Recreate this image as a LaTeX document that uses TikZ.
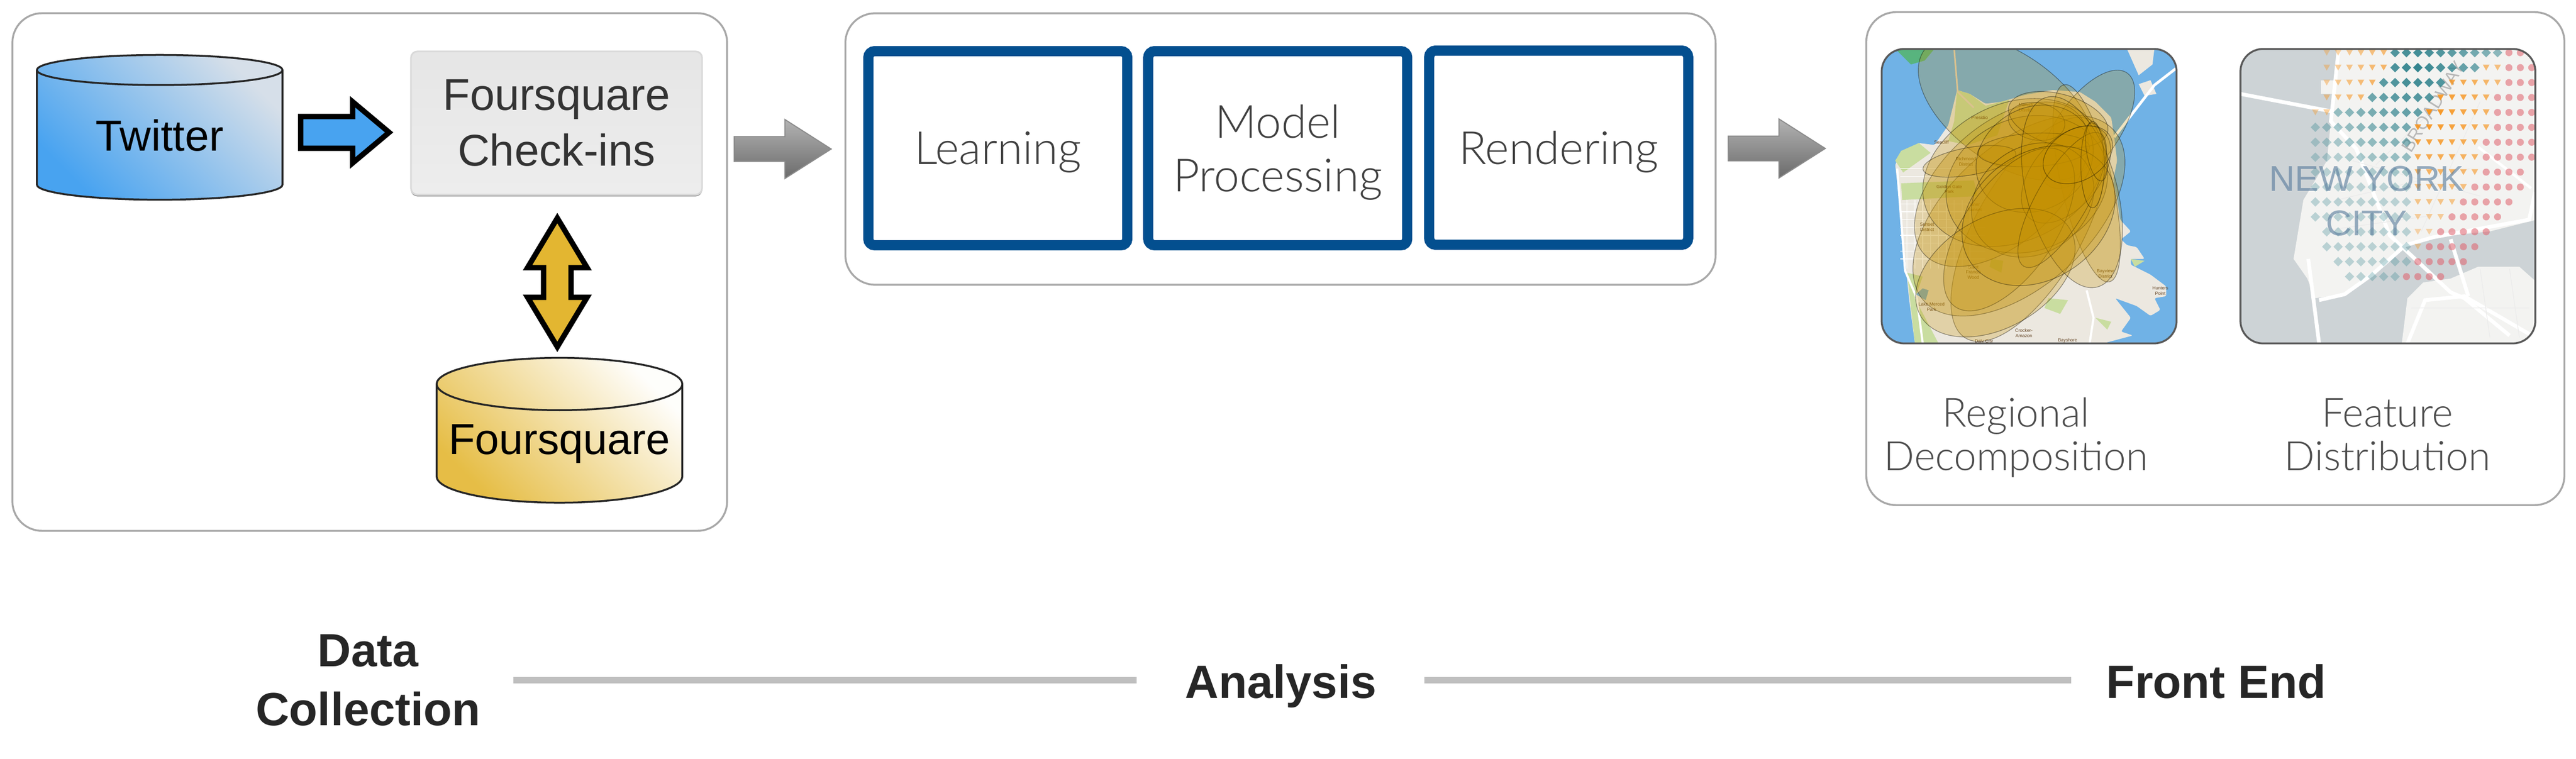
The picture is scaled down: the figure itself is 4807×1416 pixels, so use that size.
\documentclass[tikz,border=0pt]{standalone}
\usepackage{fontspec}
\setmainfont{Liberation Sans}
\newfontfamily\thinfont{Lato Light}
\usetikzlibrary{shapes.geometric}
\usetikzlibrary{shapes.arrows}
\usetikzlibrary{positioning}
\usetikzlibrary{shadows}
\definecolor{panelgray}{HTML}{A8A8A8}
\definecolor{stepblue}{HTML}{034F8F}
\definecolor{feedblue}{HTML}{48A3F0}
\definecolor{feedmid}{HTML}{B4CEE8}
\definecolor{feedpale}{HTML}{D6DFE9}
\definecolor{syncgold}{HTML}{E3B631}
\definecolor{sfwater}{HTML}{70B2E6}
\definecolor{sfland}{HTML}{ECE8E0}
\definecolor{sfgreen}{HTML}{C9DDA0}
\definecolor{sfblob}{HTML}{C49000}
\definecolor{nywater}{HTML}{CDD3D6}
\definecolor{nyland}{HTML}{F3F3F1}
\definecolor{nyname}{HTML}{54789A}
\definecolor{markteal}{HTML}{34858F}
\definecolor{markorange}{HTML}{F7941D}
\definecolor{markrose}{HTML}{E0606C}
\begin{document}
\begin{tikzpicture}[x=.01cm,y=-.01cm,
panel/.style={rectangle,draw=panelgray,line width=.035cm,rounded corners=.55cm,fill=white,outer sep=0pt},
stepbox/.style={rectangle,draw=stepblue,line width=.19cm,rounded corners=.12cm,fill=white,minimum width=4.83cm,minimum height=3.62cm,inner sep=0pt,outer sep=0pt,align=center,text=black!75,text depth=0pt,font=\thinfont\fontsize{24.3pt}{28.4pt}\selectfont},
store/.style={cylinder,shape border rotate=90,aspect=.236,draw=black!85,line width=.035cm,minimum width=4.58cm,minimum height=2.70cm,inner sep=0pt,outer sep=0pt,font=\fontsize{23pt}{28pt}\selectfont},
tilted/.style={shade,shading=axis,shading angle=-45},
bigarrow/.style={single arrow,single arrow head indent=0pt,inner xsep=0pt,outer sep=0pt,anchor=tail},
grayarrow/.style={bigarrow,draw=black!45,line width=.02cm,top color=black!30,bottom color=black!58,minimum height=1.81cm,inner ysep=.22cm,single arrow head extend=.32cm,single arrow tip angle=65},
stagelabel/.style={align=center,inner sep=0pt,font=\bfseries\fontsize{24.7pt}{31.5pt}\selectfont,text=black!85},
maplabel/.style={align=center,inner sep=0pt,text=black!70,text depth=0pt,font=\thinfont\fontsize{21.4pt}{23pt}\selectfont},
mapframe/.style={rectangle,draw=black!65,line width=.035cm,rounded corners=.42cm,minimum width=5.5cm,minimum height=5.49cm,inner sep=0pt,outer sep=0pt},
timeline/.style={draw=black!25,line width=.11cm},
tinyname/.style={align=center,inner sep=0pt,text=black!50!brown,font=\fontsize{2.4pt}{2.8pt}\selectfont}]
\useasboundingbox (0,0) rectangle (4807,1416);

\node [panel,minimum width=13.33cm,minimum height=9.65cm] (collect) at (690,507.5) {};
\node [panel,minimum width=16.23cm,minimum height=5.06cm] (process) at (2389.5,278) {};
\node [panel,minimum width=13.02cm,minimum height=9.19cm] (front) at (4134,482.5) {};

\node [store,bottom color=feedblue,middle color=feedmid,top color=feedpale,tilted] (twitter) at (298,252.5) {Twitter};
\node [rectangle,draw=black!15,line width=.03cm,rounded corners=.12cm,top color=black!10,bottom color=black!7,drop shadow={shadow xshift=0cm,shadow yshift=-.035cm,fill=black!35,opacity=1},minimum width=5.43cm,minimum height=2.67cm,align=center,text=black!80,font=\fontsize{23.6pt}{29.6pt}\selectfont] (checkins) at (1038.5,229.5) {Foursquare\\Check-ins};
\node [store,bottom color=syncgold!90,middle color=syncgold!42,top color=syncgold!2,tilted] (foursquare) at (1044,828) {Foursquare};

\node [bigarrow,draw=black,line width=.1cm,fill=feedblue,minimum height=1.65cm,inner ysep=.245cm,single arrow head extend=.275cm,single arrow tip angle=80] (feed) at (561,247) {};
\node [double arrow,shape border rotate=90,double arrow head indent=0pt,draw=black,line width=.1cm,fill=syncgold,inner xsep=.205cm,inner ysep=0pt,outer sep=0pt,minimum height=2.4cm,double arrow head extend=.3cm,double arrow tip angle=62] (sync) at (1040,527) {};
\node [grayarrow] (toprocess) at (1370,278) {};
\node [grayarrow] (tofront) at (3225,277) {};

\node [stepbox] (learn) at (1862,276.5) {Learning};
\node [stepbox,right=.39cm,at=(learn.east)] (model) {Model\\Processing};
\node [stepbox,right=.41cm,at=(model.east),yshift=.01cm] (render) {Rendering};

\begin{scope}[shift={(3500,80)},x=.003667cm,y=-.003667cm]
\clip [rounded corners=.42cm] (30,32) rectangle (1532,1528);
\fill [sfwater] (0,0) rectangle (1600,1600);
\fill [sfland,rounded corners=.03cm] (415,240) -- (480,260) -- (560,310) -- (640,300) -- (760,265) -- (900,240) -- (1040,250) -- (1120,300) -- (1200,380) -- (1215,480) -- (1230,600) -- (1210,700) -- (1230,800) -- (1245,900) -- (1300,960) -- (1250,1000) -- (1280,1030) -- (1330,1040) -- (1370,1100) -- (1300,1100) -- (1300,1130) -- (1400,1180) -- (1480,1240) -- (1480,1290) -- (1420,1300) -- (1450,1360) -- (1400,1390) -- (1330,1340) -- (1220,1300) -- (1300,1400) -- (1250,1470) -- (1310,1490) -- (1160,1530) -- (200,1530) -- (170,1300) -- (130,900) -- (100,620) -- (130,560) -- (220,510) -- (300,520) -- (370,420) -- cycle;
\fill [sfland] (1280,30) -- (1420,30) -- (1410,110) -- (1340,165) -- cycle;
\fill [sfland] (1340,210) -- (1400,190) -- (1430,260) -- (1370,270) -- cycle;
\fill [sfgreen!60!black!60!green,opacity=.6] (100,30) -- (300,30) -- (250,90) -- (180,110) -- cycle;
\fill [sfgreen] (415,240) -- (480,260) -- (560,320) -- (680,290) -- (620,470) -- (470,520) -- (370,500) -- (400,400) -- cycle;
\fill [sfgreen] (100,600) -- (130,550) -- (220,510) -- (280,560) -- (140,660) -- cycle;
\fill [sfgreen] (130,715) -- (500,700) -- (520,780) -- (135,800) -- cycle;
\fill [sfgreen] (160,1170) -- (240,1190) -- (200,1300) -- (320,1530) -- (200,1530) -- cycle;
\fill [sfgreen] (880,1300) -- (980,1310) -- (940,1380) -- (860,1350) -- cycle;
\fill [sfgreen] (590,1100) -- (650,1110) -- (640,1170) -- (580,1140) -- cycle;
\fill [sfgreen] (1120,1400) -- (1200,1420) -- (1180,1460) -- cycle;
\fill [sfgreen] (1300,1100) -- (1370,1110) -- (1320,1140) -- cycle;
\fill [sfwater] (205,1280) -- (240,1250) -- (270,1260) -- (255,1310) -- cycle;
\foreach \gy in {640,680,820,860,900,940,980,1020,1060,1100} {\draw [white,line width=.012cm] (125,\gy) -- (560,\gy);}
\foreach \gx in {160,200,240,280,320,360,400,440,480} {\draw [white,line width=.012cm] (\gx,800) -- (\gx,1150);}
\draw [white,line width=.05cm] (1215,480) -- (1420,215) -- (1530,130);
\draw [sfland!80!brown,line width=.03cm] (400,30) -- (418,250) -- (500,330);
\draw [white,line width=.04cm] (110,640) -- (150,1160) -- (210,1300) -- (240,1530);
\draw [white,line width=.04cm] (1075,1260) -- (1110,1400) -- (1090,1530);
\foreach \lx/\ly/\lt [count=\n] in {335/507/Seacliff,530/382/Presidio,460/605/{Richmond\\District},375/745/{Golden Gate\\Park},505/838/{Inner\\Sunset},262/937/{Sunset\\District},765/330/{Marina\\District},498/1168/{Saint\\Francis\\Wood},285/1345/{Lake Merced\\Park},1170/1175/{Bayview\\District},1450/1262/{Hunters\\Point},755/1478/{Crocker-\\Amazon},552/1520/Daly City,978/1516/Bayshore} {\node [tinyname] (sfname\n) at (\lx,\ly) {\lt};}
\foreach \cx/\cy/\ra/\rb/\rt in {665/330/510/280/-35,1080/440/350/160/55,1075/715/515/130/-77,780/950/640/270/60,730/880/650/360/42,640/720/530/300/42,700/660/480/350/25,770/720/420/340/20,478/603/240/70/10,820/400/145/95/-10,930/390/260/130/-15,805/545/285/85/3,810/590/310/260/30,970/670/290/170/50,800/800/330/270/35,680/950/480/230/55,610/1170/440/280/30,1000/760/500/230/-75,950/800/390/130/60,830/880/420/320/35,1105/620/220/60/-90,1125/555/150/50/-80,1030/570/190/130/30} {\draw [fill=sfblob,fill opacity=.25,draw=black,draw opacity=.4,line width=.012cm] (\cx,\cy) ellipse [x radius=\ra,y radius=\rb,rotate=\rt];}
\end{scope}
\node [mapframe] (sfmap) at (3786.5,366) {};

\begin{scope}[shift={(4170,80)},x=.003667cm,y=-.003667cm]
\clip [rounded corners=.42cm] (30,32) rectangle (1530,1528);
\fill [nywater] (0,0) rectangle (1600,1600);
\fill [nyland] (530,20) -- (510,200) -- (490,400) -- (470,600) -- (350,800) -- (300,1100) -- (370,1200) -- (410,1300) -- (560,1280) -- (700,1180) -- (870,1030) -- (1010,990) -- (1300,960) -- (1540,900) -- (1540,20) -- cycle;
\fill [nyland] (880,1300) -- (960,1220) -- (1100,1200) -- (1240,1140) -- (1450,1140) -- (1540,1220) -- (1540,1540) -- (850,1540) -- cycle;
\fill [nyland] (440,190) rectangle (520,260);
\draw [white,line width=.07cm] (30,260) -- (500,350);
\draw [white,line width=.07cm] (530,30) -- (490,400) -- (620,540) -- (790,980) -- (1100,1270) -- (1170,1300) -- (1400,1490);
\draw [white,line width=.07cm] (375,1100) -- (430,1530);
\draw [white,line width=.07cm] (1100,1000) -- (1190,1290);
\draw [white,line width=.07cm] (880,1530) -- (970,1310) -- (1170,1290) -- (1530,1500);
\draw [white,line width=.07cm] (430,1310) -- (560,1280) -- (700,1180) -- (870,1030) -- (1010,990) -- (1500,900) -- (1530,760);
\draw [white,line width=.05cm] (1240,530) -- (1510,740);
\draw [black!8,line width=.012cm] (1050,300) -- (720,620) (1250,300) -- (950,960) (600,600) -- (1250,780) (520,800) -- (1200,640) (500,950) -- (1000,880) (1250,1150) -- (1300,1500) (1400,1150) -- (1450,1500) (900,1350) -- (1500,1350);
\node [rotate=58,inner sep=0pt,text=black!28,font=\fontsize{9.5pt}{10pt}\selectfont] (broadway) at (1010,325) {BROADWAY};
\foreach \rowy/\kfrom/\kto in {50/7/16,126/7/14,202/6/11,278/5/10,354/2/9,430/0/8,506/0/8,582/0/8,658/0/8,734/0/8,810/0/8,886/0/8,962/1/8,1038/1/8,1114/2/8,1190/3/7} {\foreach \k in {\kfrom,...,\kto} {\pgfmathsetmacro\mx{411+58*\k}\pgfmathsetmacro\op{max(.3,1-.0011*veclen(\mx-930,\rowy-126))}\fill [markteal,fill opacity=\op] (\mx-24,\rowy) -- (\mx,\rowy-24) -- (\mx+24,\rowy) -- (\mx,\rowy+24) -- cycle;}}
\foreach \rowy/\kfrom/\kto in {50/1/6,126/1/6,126/15/16,202/1/5,202/12/16,278/1/4,278/11/15,354/0/1,354/10/15,430/9/15,506/9/14,582/9/14,658/9/14,734/9/13,810/9/12,886/9/11,962/9/10,1038/9/9} {\foreach \k in {\kfrom,...,\kto} {\pgfmathsetmacro\mx{411+58*\k}\pgfmathsetmacro\op{max(.35,1-.0011*veclen(\mx-990,\rowy-354))}\fill [markorange,fill opacity=\op] (\mx-17,\rowy-15) -- (\mx+17,\rowy-15) -- (\mx,\rowy+15) -- cycle;}}
\foreach \rowy/\kfrom/\kto in {50/17/18,126/17/19,202/17/19,278/16/19,354/16/19,430/16/19,506/15/19,582/15/19,658/15/18,734/14/18,810/13/17,886/12/16,962/11/15,1038/10/14,1114/9/13,1190/8/11} {\foreach \k in {\kfrom,...,\kto} {\pgfmathsetmacro\mx{411+58*\k}\fill [markrose,fill opacity=.55] (\mx,\rowy) circle [radius=18];}}
\node [inner sep=0pt,align=center,text=nyname,opacity=.6,font=\fontsize{19pt}{23.8pt}\selectfont] (nycname) at (672,805) {NEW YORK\\CITY};
\end{scope}
\node [mapframe] (nymap) at (4456,366) {};

\node [maplabel] (regional) at (3762,810) {Regional\\Decomposition};
\node [maplabel] (feature) at (4455,810) {Feature\\Distribution};

\node [stagelabel] (data) at (687,1269) {Data\\Collection};
\node [stagelabel,text height=.84cm,text depth=.18cm] (analysis) at (2390,1269) {Analysis};
\node [stagelabel,text height=.84cm,text depth=.18cm] (frontend) at (4136,1269) {Front End};
\draw [timeline,shorten <=.6cm,shorten >=.9cm] (data) -- (analysis);
\draw [timeline,shorten <=.89cm,shorten >=.65cm] (analysis) -- (frontend);
\end{tikzpicture}
\end{document}
